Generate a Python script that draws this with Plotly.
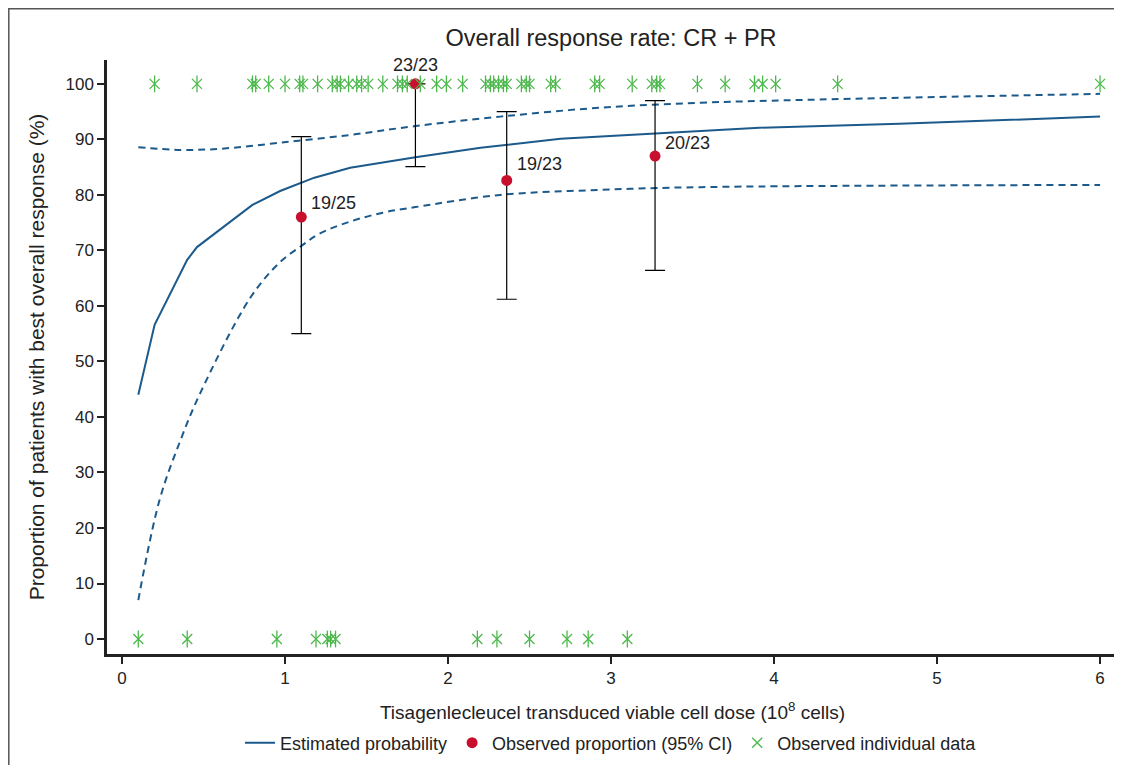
import plotly.graph_objects as go

# Estimated probability curve
est_x = [0.1, 0.2, 0.4, 0.46, 0.8, 0.97, 1.18, 1.4, 1.8, 2.2, 2.69, 3.26, 3.91, 4.77, 6.0]
est_y = [44.0, 56.6, 68.3, 70.6, 78.2, 80.7, 83.1, 84.9, 86.8, 88.5, 90.1, 91.0, 92.1, 92.8, 94.1]

up_x = [0.1, 0.36, 0.6, 0.97, 1.4, 1.8, 2.32, 2.93, 3.55, 4.16, 6.0]
up_y = [88.6, 88.1, 88.3, 89.4, 90.8, 92.4, 94.1, 95.7, 96.6, 97.1, 98.2]

lo_x = [0.1, 0.23, 0.36, 0.48, 0.79, 0.97, 1.1, 1.21, 1.4, 1.6, 1.8, 2.32, 2.93, 3.55, 6.0]
lo_y = [7.0, 25.0, 35.9, 44.3, 61.6, 67.9, 70.8, 73.0, 75.2, 76.8, 77.8, 80.0, 80.9, 81.4, 81.8]

# Observed proportions with 95% CI
obs_x = [1.1, 1.8, 2.36, 3.27]
obs_y = [76.0, 100.0, 82.6, 87.0]
obs_hi = [90.5, 100.0, 95.0, 97.0]
obs_lo = [55.0, 85.1, 61.2, 66.4]
obs_lab = ["19/25", "23/23", "19/23", "20/23"]

# Individual data
resp_x = [0.2, 0.46, 0.80, 0.82, 0.90, 1.0, 1.09, 1.11, 1.20, 1.29, 1.32, 1.34, 1.39,
          1.44, 1.47, 1.51, 1.60, 1.69, 1.72, 1.75, 1.83, 1.93, 1.99, 2.09, 2.23, 2.26,
          2.28, 2.31, 2.34, 2.36, 2.45, 2.48, 2.50, 2.63, 2.66, 2.90, 2.93, 3.13, 3.25,
          3.28, 3.30, 3.53, 3.70, 3.88, 3.93, 4.01, 4.39, 6.0]
nonresp_x = [0.10, 0.40, 0.95, 1.19, 1.26, 1.28, 1.31, 2.18, 2.30, 2.50, 2.73, 2.86, 3.10]

BLUE = "#1c5a8c"
RED = "#c8102e"
GREEN = "#4cb84c"
FONT = "Liberation Sans, Arial, sans-serif"
DASH = "7px,5px"

ind_x = resp_x + nonresp_x
ind_y = [100] * len(resp_x) + [0] * len(nonresp_x)

fig = go.Figure()
fig.add_trace(go.Scatter(x=up_x, y=up_y, mode="lines", line=dict(color=BLUE, width=2, dash=DASH, shape="spline"),
                         showlegend=False, hoverinfo="skip"))
fig.add_trace(go.Scatter(x=lo_x, y=lo_y, mode="lines", line=dict(color=BLUE, width=2, dash=DASH, shape="spline"),
                         showlegend=False, hoverinfo="skip"))
fig.add_trace(go.Scatter(x=est_x, y=est_y, mode="lines", line=dict(color=BLUE, width=2),
                         name="Estimated probability"))
fig.add_trace(go.Scatter(
    x=obs_x, y=obs_y, mode="markers",
    marker=dict(color=RED, size=11),
    error_y=dict(type="data", symmetric=False,
                 array=[h - y for h, y in zip(obs_hi, obs_y)],
                 arrayminus=[y - l for y, l in zip(obs_y, obs_lo)],
                 color="black", thickness=1.2, width=10),
    name="Observed proportion (95% CI)"))
fig.add_trace(go.Scatter(x=ind_x, y=ind_y, mode="markers",
                         marker=dict(symbol="line-ns-open", size=12, color=GREEN, line=dict(color=GREEN, width=1.3)),
                         showlegend=False, hoverinfo="skip", cliponaxis=False))
fig.add_trace(go.Scatter(x=ind_x, y=ind_y, mode="markers",
                         marker=dict(symbol="x-thin-open", size=10, color=GREEN, line=dict(color=GREEN, width=1.3)),
                         name="Observed individual data", cliponaxis=False))

# labels
offs = [(8, -14, "left"), (0, -19, "center"), (8, -16, "left"), (8, -13, "left")]
for x, y, t, (dx, dy, al) in zip(obs_x, obs_y, obs_lab, offs):
    fig.add_annotation(x=x, y=y, text=t, showarrow=False, xanchor=al, yanchor="middle",
                       xshift=dx, yshift=-dy, font=dict(size=18, color="#222", family=FONT))

# figure frame (left, top, right edges)
fig.add_shape(type="rect", xref="paper", yref="paper", x0=-98.2 / 1011, x1=1.0, y0=-0.5, y1=1 + 51.2 / 594,
              line=dict(color="#555", width=1.5), fillcolor="rgba(0,0,0,0)", layer="below")

fig.update_layout(
    width=1114, height=757,
    margin=dict(l=99, r=4, t=52, b=111),
    paper_bgcolor="white", plot_bgcolor="white",
    font=dict(family=FONT, size=17, color="#222"),
    title=dict(text="Overall response rate: CR + PR", x=(611 - 8) / 1114, xanchor="center",
               y=1 - 30 / 757, yanchor="middle",
               font=dict(size=23.5, family=FONT, color="#222")),
    xaxis=dict(range=[-0.092, 6.11], tickvals=[0, 1, 2, 3, 4, 5, 6], showgrid=False, zeroline=False,
               showline=True, linecolor="#222", linewidth=2.5, ticks="outside", ticklen=7, tickwidth=1.5,
               tickcolor="#222", tickfont=dict(size=17), automargin=False,
               title=dict(text="Tisagenlecleucel transduced viable cell dose (10<sup>8</sup> cells)",
                          font=dict(size=19), standoff=19)),
    yaxis=dict(range=[-2.7, 104.3], tickvals=list(range(0, 101, 10)), showgrid=False, zeroline=False,
               showline=True, linecolor="#222", linewidth=2.5, ticks="outside", ticklen=7, tickwidth=1.5,
               tickcolor="#222", tickfont=dict(size=17), automargin=False,
               title=dict(text="Proportion of patients with best overall response (%)",
                          font=dict(size=21), standoff=16)),
    legend=dict(orientation="h", x=(611 - 8 - 99) / 1011, xanchor="center", y=-89 / 594, yanchor="middle",
                font=dict(size=18), itemwidth=30, tracegroupgap=0),
)

fig.write_html("out.html")
